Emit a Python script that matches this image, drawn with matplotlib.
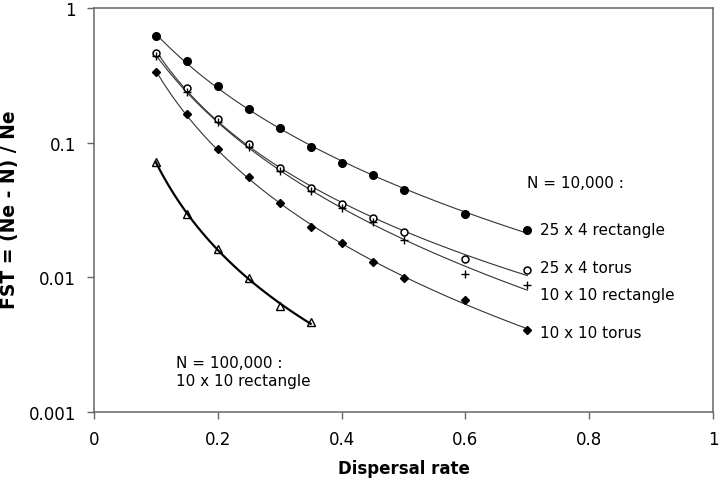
import matplotlib
matplotlib.use("Agg")
import matplotlib.pyplot as plt
import numpy as np

# dispersal rates
x_big = [0.1, 0.15, 0.2, 0.25, 0.3, 0.35, 0.4, 0.45, 0.5, 0.6, 0.7]
x_small = [0.1, 0.15, 0.2, 0.25, 0.3, 0.35]

# N = 10,000
rect_25x4 = [0.620, 0.402, 0.262, 0.178, 0.128, 0.0934, 0.0711, 0.0573, 0.0446, 0.0296, 0.0225]
torus_25x4 = [0.461, 0.253, 0.150, 0.0978, 0.0646, 0.0461, 0.0352, 0.0277, 0.0216, 0.0137, 0.01135]
rect_10x10 = [0.440, 0.239, 0.142, 0.0934, 0.0620, 0.0440, 0.0328, 0.0256, 0.0190, 0.0106, 0.00883]
torus_10x10 = [0.333, 0.163, 0.0898, 0.0554, 0.0355, 0.0235, 0.0179, 0.0129, 0.0099, 0.00683, 0.00407]

# N = 100,000
rect_10x10_big = [0.0715, 0.0296, 0.0163, 0.00985, 0.0061, 0.00464]


def trend(x, y):
    # smooth trendline: quadratic fit of log y against log x
    c = np.polyfit(np.log(x), np.log(y), 2)
    xs = np.linspace(min(x), max(x), 100)
    return xs, np.exp(np.polyval(c, np.log(xs)))


fig = plt.figure(figsize=(7.2, 4.81), dpi=100)
ax = fig.add_axes([0.1306, 0.1414, 0.8597, 0.840])

thin = dict(color='#333333', lw=0.8)
for y in [rect_25x4, torus_25x4, rect_10x10, torus_10x10]:
    xs, ys = trend(x_big, y)
    ax.plot(xs, ys, **thin)
xs, ys = trend(x_small, rect_10x10_big)
ax.plot(xs, ys, color='black', lw=1.6)

ax.plot(x_big, rect_25x4, 'o', color='black', ms=5.5, ls='none')
ax.plot(x_big, torus_25x4, 'o', mfc='white', mec='black', mew=1.1, ms=5, ls='none')
ax.plot(x_big, rect_10x10, '+', color='black', mew=1.0, ms=6, ls='none')
ax.plot(x_big, torus_10x10, 'D', color='black', ms=3.8, ls='none')
ax.plot(x_small, rect_10x10_big, '^', mfc='none', mec='black', mew=1.0, ms=5.5, ls='none')

ax.set_yscale('log')
ax.set_xlim(0, 1)
ax.set_ylim(0.001, 1)
ax.set_xticks([0, 0.2, 0.4, 0.6, 0.8, 1])
ax.set_xticklabels(['0', '0.2', '0.4', '0.6', '0.8', '1'])
ax.set_yticks([0.001, 0.01, 0.1, 1])
ax.set_yticklabels(['0.001', '0.01', '0.1', '1'])
ax.yaxis.set_minor_locator(matplotlib.ticker.NullLocator())
ax.tick_params(labelsize=12, length=5, width=1, color='#666666', pad=8)
for s in ax.spines.values():
    s.set_color('#666666')
    s.set_linewidth(1.1)

ax.set_xlabel('Dispersal rate', fontsize=12, fontweight='bold', labelpad=8)
fig.text(10 / 720, 0.565, 'FST = (Ne - N) / Ne', fontsize=13.5, fontweight='bold',
         rotation=90, ha='center', va='center')

fs = 11
ax.text(0.700, 0.0508, 'N = 10,000 :', fontsize=fs, va='center')
ax.text(0.721, 0.0225, '25 x 4 rectangle', fontsize=fs, va='center')
ax.text(0.721, 0.01189, '25 x 4 torus', fontsize=fs, va='center')
ax.text(0.721, 0.00744, '10 x 10 rectangle', fontsize=fs, va='center')
ax.text(0.721, 0.00391, '10 x 10 torus', fontsize=fs, va='center')
ax.text(0.132, 0.00235, 'N = 100,000 :', fontsize=fs, va='center')
ax.text(0.132, 0.00171, '10 x 10 rectangle', fontsize=fs, va='center')

fig.savefig('out.png', dpi=100)
